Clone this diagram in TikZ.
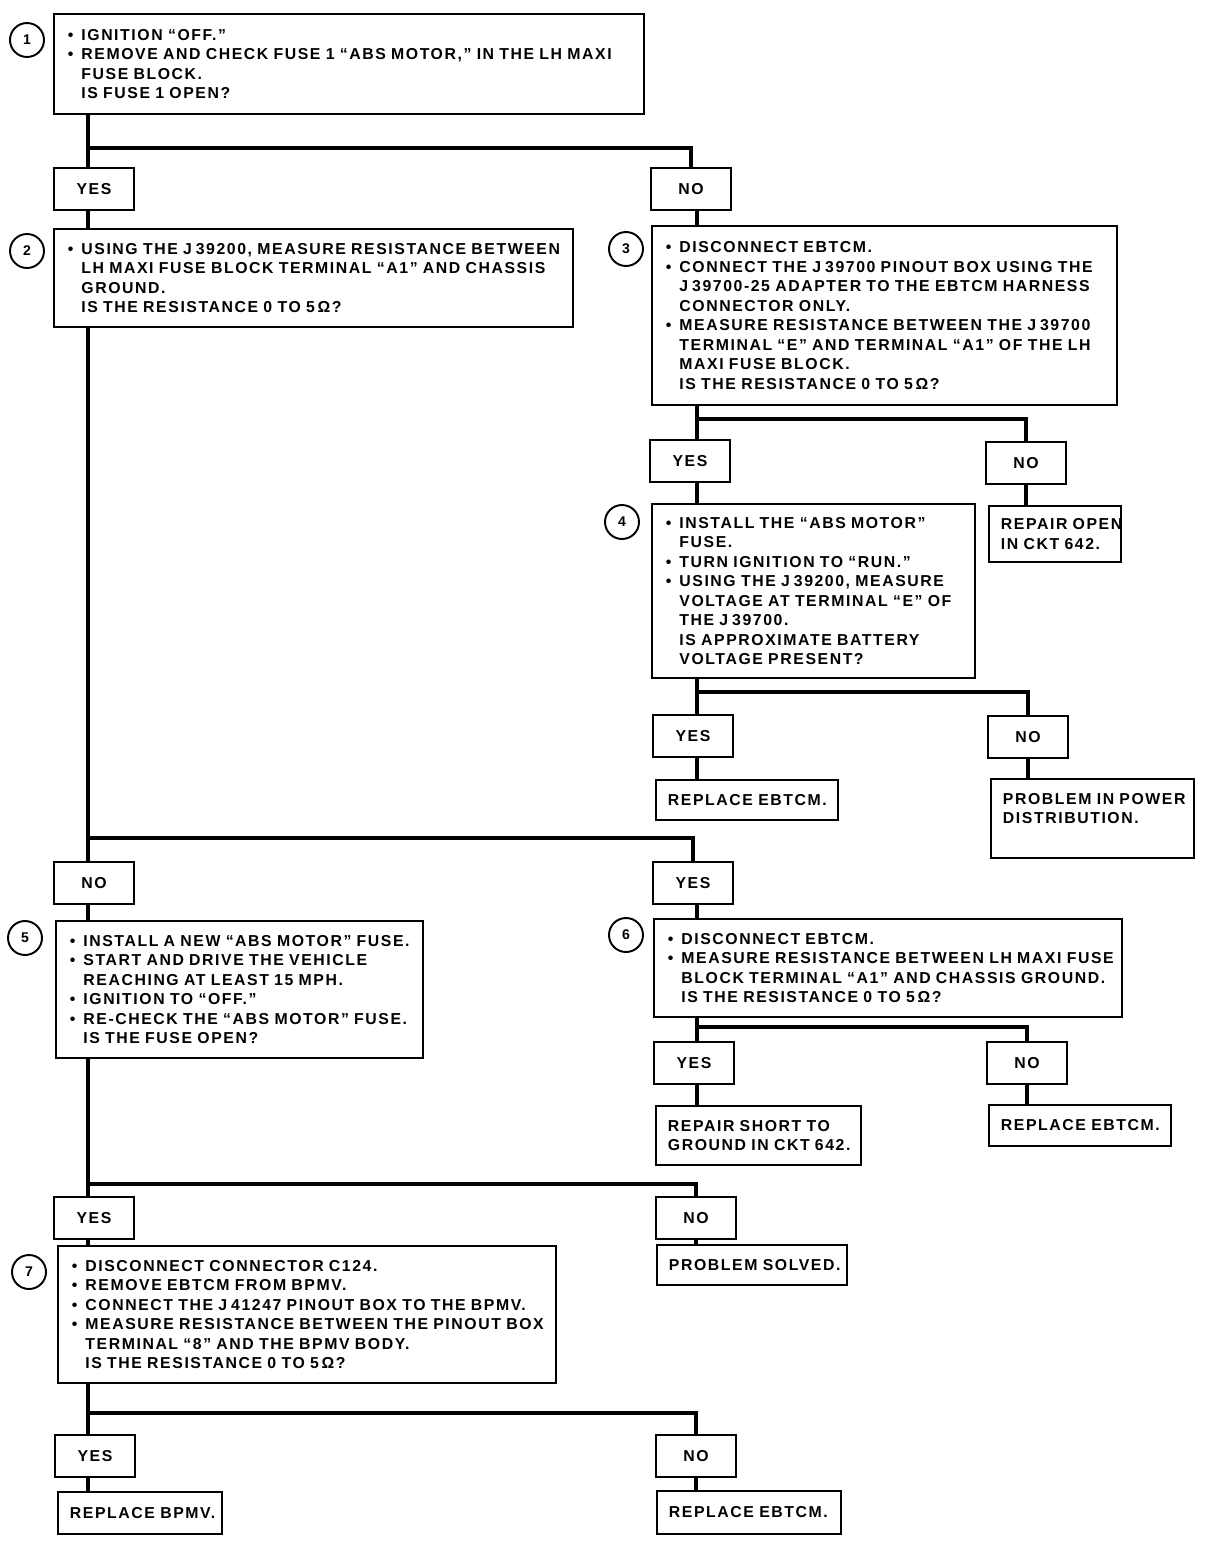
\documentclass[tikz,border=0pt]{standalone}
\usepackage{fontspec}
\setmainfont{Liberation Sans}[LetterSpace=10]

\newcommand{\pnt}[1]{\mbox{\makebox[0.85em][l]{\textbullet}#1}}
\newcommand{\cnt}[1]{\mbox{\hspace*{0.85em}#1}}
\newcommand{\jno}{J\hspace{0.25em}}

\begin{document}
\begin{tikzpicture}
            [
            x=0.02cm, y=-0.02cm,
            stepbox/.style={draw, line width=1.1pt, anchor=north west, align=left,
                inner xsep=0.28cm, inner ysep=0pt,
                font={\fontsize{9}{11.1}\selectfont\bfseries}},
            result/.style={stepbox, inner xsep=0.24cm},
            answer/.style={draw, line width=1.1pt, minimum width=1.6cm,
                minimum height=0.84cm, font={\fontsize{9}{11.1}\selectfont\bfseries}},
            number/.style={draw, circle, line width=1.1pt, minimum size=0.68cm,
                inner sep=0pt, font={\fontsize{8}{9}\selectfont\bfseries}},
            wire/.style={line width=2.8pt},
            ]
            \useasboundingbox (0,0) rectangle (1216,1542);

            % Step 1
            \node[number] (c1) at (27,40) {1};
            \node[stepbox, text width=11.24cm, minimum height=2cm] (b1) at (53,13) {
                \pnt{IGNITION “OFF.”}\\
                \pnt{REMOVE AND CHECK FUSE 1 “ABS MOTOR,” IN THE LH MAXI}\\
                \cnt{FUSE BLOCK.}\\
                \cnt{IS FUSE 1 OPEN?}};
            \node[answer] (y1) at (94,189) {YES};
            \node[answer] (n1) at (691,189) {NO};

            % Step 2
            \node[number] (c2) at (27,251) {2};
            \node[stepbox, text width=9.82cm, minimum height=1.96cm] (b2) at (53,228) {
                \pnt{USING THE \jno39200, MEASURE RESISTANCE BETWEEN}\\
                \cnt{LH MAXI FUSE BLOCK TERMINAL “A1” AND CHASSIS}\\
                \cnt{GROUND.}\\
                \cnt{IS THE RESISTANCE 0 TO 5\,Ω?}};

            % Step 3
            \node[number] (c3) at (626,249) {3};
            \node[stepbox, text width=8.74cm, minimum height=3.58cm] (b3) at (651,225) {
                \pnt{DISCONNECT EBTCM.}\\
                \pnt{CONNECT THE \jno39700 PINOUT BOX USING THE}\\
                \cnt{\jno39700-25 ADAPTER TO THE EBTCM HARNESS}\\
                \cnt{CONNECTOR ONLY.}\\
                \pnt{MEASURE RESISTANCE BETWEEN THE \jno39700}\\
                \cnt{TERMINAL “E” AND TERMINAL “A1” OF THE LH}\\
                \cnt{MAXI FUSE BLOCK.}\\
                \cnt{IS THE RESISTANCE 0 TO 5\,Ω?}};
            \node[answer] (y3) at (690,461) {YES};
            \node[answer] (n3) at (1026,463) {NO};
            \node[result, text width=2.16cm, minimum height=1.12cm] (r3) at (988,505) {
                \mbox{REPAIR OPEN}\\\mbox{IN CKT 642.}};

            % Step 4
            \node[number] (c4) at (622,522) {4};
            \node[stepbox, text width=5.9cm, minimum height=3.48cm] (b4) at (651,503) {
                \pnt{INSTALL THE “ABS MOTOR”}\\
                \cnt{FUSE.}\\
                \pnt{TURN IGNITION TO “RUN.”}\\
                \pnt{USING THE \jno39200, MEASURE}\\
                \cnt{VOLTAGE AT TERMINAL “E” OF}\\
                \cnt{THE \jno39700.}\\
                \cnt{IS APPROXIMATE BATTERY}\\
                \cnt{VOLTAGE PRESENT?}};
            \node[answer] (y4) at (693,736) {YES};
            \node[answer] (n4) at (1028,737) {NO};
            \node[result, text width=3.16cm, minimum height=0.8cm] (r4a) at (655,779) {
                \mbox{REPLACE EBTCM.}};
            \node[result, text width=3.58cm, minimum height=1.58cm] (r4b) at (990,778) {
                \mbox{PROBLEM IN POWER}\\\mbox{DISTRIBUTION.}\\\mbox{}};

            % Second question on fuse 1
            \node[answer] (nT) at (94,883) {NO};
            \node[answer] (yT) at (693,883) {YES};

            % Step 5
            \node[number] (c5) at (25,938) {5};
            \node[stepbox, text width=6.78cm, minimum height=2.74cm] (b5) at (55,920) {
                \pnt{INSTALL A NEW “ABS MOTOR” FUSE.}\\
                \pnt{START AND DRIVE THE VEHICLE}\\
                \cnt{REACHING AT LEAST 15 MPH.}\\
                \pnt{IGNITION TO “OFF.”}\\
                \pnt{RE-CHECK THE “ABS MOTOR” FUSE.}\\
                \cnt{IS THE FUSE OPEN?}};
            \node[answer] (y5) at (94,1218) {YES};
            \node[answer] (n5) at (696,1218) {NO};
            \node[result, text width=3.32cm, minimum height=0.8cm] (r5) at (656,1244) {
                \mbox{PROBLEM SOLVED.}};

            % Step 6
            \node[number] (c6) at (626,935) {6};
            \node[stepbox, text width=8.8cm, minimum height=1.96cm] (b6) at (653,918) {
                \pnt{DISCONNECT EBTCM.}\\
                \pnt{MEASURE RESISTANCE BETWEEN LH MAXI FUSE}\\
                \cnt{BLOCK TERMINAL “A1” AND CHASSIS GROUND.}\\
                \cnt{IS THE RESISTANCE 0 TO 5\,Ω?}};
            \node[answer] (y6) at (694,1063) {YES};
            \node[answer] (n6) at (1027,1063) {NO};
            \node[result, text width=3.62cm, minimum height=1.18cm] (r6a) at (655,1105) {
                \mbox{REPAIR SHORT TO}\\\mbox{GROUND IN CKT 642.}};
            \node[result, text width=3.16cm, minimum height=0.82cm] (r6b) at (988,1104) {
                \mbox{REPLACE EBTCM.}};

            % Step 7
            \node[number] (c7) at (29,1272) {7};
            \node[stepbox, text width=9.4cm, minimum height=2.74cm] (b7) at (57,1245) {
                \pnt{DISCONNECT CONNECTOR C124.}\\
                \pnt{REMOVE EBTCM FROM BPMV.}\\
                \pnt{CONNECT THE \jno41247 PINOUT BOX TO THE BPMV.}\\
                \pnt{MEASURE RESISTANCE BETWEEN THE PINOUT BOX}\\
                \cnt{TERMINAL “8” AND THE BPMV BODY.}\\
                \cnt{IS THE RESISTANCE 0 TO 5\,Ω?}};
            \node[answer] (y7) at (95,1456) {YES};
            \node[answer] (n7) at (696,1456) {NO};
            \node[result, text width=2.8cm, minimum height=0.84cm] (r7a) at (57,1491) {
                \mbox{REPLACE BPMV.}};
            \node[result, text width=3.2cm, minimum height=0.86cm] (r7b) at (656,1490) {
                \mbox{REPLACE EBTCM.}};

            % Junctions
            \coordinate (j1) at (88,148);
            \coordinate (j3) at (697,419);
            \coordinate (j4) at (697,692);
            \coordinate (jT) at (88,838);
            \coordinate (j6) at (697,1027);
            \coordinate (j5) at (88,1184);
            \coordinate (j7) at (88,1413);

            % Connectors
            \draw[wire] (b1.south -| j1) -- (j1) -| (n1);
            \draw[wire] (j1) -- (y1.north -| j1);
            \draw[wire] (y1.south -| j1) -- (b2.north -| j1);
            \draw[wire] (n1.south -| j3) -- (b3.north -| j3);

            \draw[wire] (b3.south -| j3) -- (j3) -| (n3);
            \draw[wire] (j3) -- (y3.north -| j3);
            \draw[wire] (y3.south -| j3) -- (b4.north -| j3);
            \draw[wire] (n3) -- (n3 |- r3.north);

            \draw[wire] (b4.south -| j4) -- (j4) -| (n4);
            \draw[wire] (j4) -- (y4.north -| j4);
            \draw[wire] (y4.south -| j4) -- (r4a.north -| j4);
            \draw[wire] (n4) -- (n4 |- r4b.north);

            \draw[wire] (b2.south -| jT) -- (jT) -| (yT);
            \draw[wire] (jT) -- (nT.north -| jT);
            \draw[wire] (nT.south -| jT) -- (b5.north -| jT);
            \draw[wire] (yT.south -| j6) -- (b6.north -| j6);

            \draw[wire] (b6.south -| j6) -- (j6) -| (n6);
            \draw[wire] (j6) -- (y6.north -| j6);
            \draw[wire] (y6.south -| j6) -- (r6a.north -| j6);
            \draw[wire] (n6) -- (n6 |- r6b.north);

            \draw[wire] (b5.south -| j5) -- (j5) -| (n5);
            \draw[wire] (j5) -- (y5.north -| j5);
            \draw[wire] (y5.south -| j5) -- (b7.north -| j5);
            \draw[wire] (n5) -- (n5 |- r5.north);

            \draw[wire] (b7.south -| j7) -- (j7) -| (n7);
            \draw[wire] (j7) -- (y7.north -| j7);
            \draw[wire] (y7.south -| j7) -- (r7a.north -| j7);
            \draw[wire] (n7) -- (n7 |- r7b.north);
        \end{tikzpicture}
\end{document}
